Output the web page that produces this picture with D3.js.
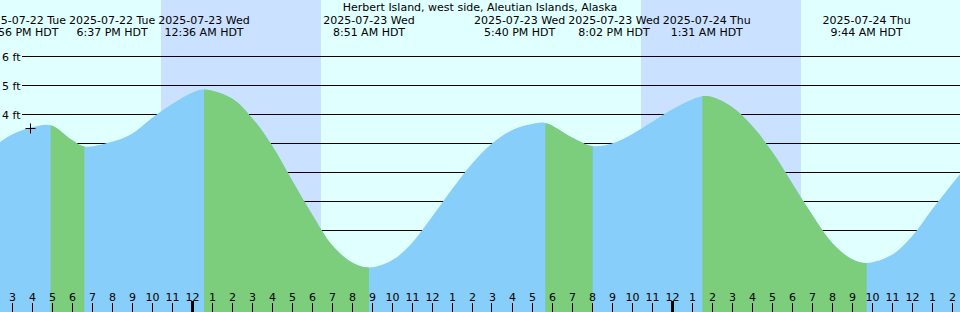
<!DOCTYPE html>
<html>
<head>
<meta charset="utf-8">
<script src="https://cdn.jsdelivr.net/npm/d3@7"></script>
<style>
  body { margin: 0; }
  svg { display: block; font-family: "DejaVu Sans", sans-serif; }
</style>
</head>
<body>
<div id="chart"></div>
<script>
// Station and time window
const title = "Herbert Island, west side, Aleutian Islands, Alaska";
const viewStart = "2025-07-22 14:24";
const viewEnd = "2025-07-24 14:24";

// Water level (ft), one value per hour from levelStart
const levelStart = "2025-07-22 14:00";
const hourlyLevels = [
    2.85, 3.31, 3.56, 3.62, 3.12, 2.91, 3.06, 3.34, 3.88, 4.36,
    4.75, 4.84, 4.55, 3.88, 2.93, 1.73, 0.56, -0.50, -1.10, -1.27,
    -1.03, -0.43, 0.47, 1.42, 2.30, 3.00, 3.46, 3.67, 3.66, 3.21,
    2.92, 3.00, 3.32, 3.74, 4.17, 4.52, 4.60, 4.26, 3.61, 2.72,
    1.64, 0.55, -0.42, -0.99, -1.10, -0.84, -0.20, 0.72, 1.60, 2.45
];

// High / low tide events
const eventTimes = [
    "2025-07-22 16:56", "2025-07-22 18:37", "2025-07-23 00:36", "2025-07-23 08:51",
    "2025-07-23 17:40", "2025-07-23 20:02", "2025-07-24 01:31", "2025-07-24 09:44"
];
const eventLevels = [3.63, 2.90, 4.86, -1.28, 3.71, 2.91, 4.63, -1.12];
const eventDates = [
    "2025-07-22 Tue", "2025-07-22 Tue", "2025-07-23 Wed", "2025-07-23 Wed",
    "2025-07-23 Wed", "2025-07-23 Wed", "2025-07-24 Thu", "2025-07-24 Thu"
];
const eventClock = [
    "4:56 PM HDT", "6:37 PM HDT", "12:36 AM HDT", "8:51 AM HDT",
    "5:40 PM HDT", "8:02 PM HDT", "1:31 AM HDT", "9:44 AM HDT"
];

// Night (sunset -> sunrise)
const nightStart = ["2025-07-22 22:27", "2025-07-23 22:27"];
const nightEnd = ["2025-07-23 06:27", "2025-07-24 06:27"];

// Current time marker
const nowTime = "2025-07-22 15:54";
const nowLevel = 3.55;

const yTicks = [0, 1, 2, 3, 4, 5, 6];

const width = 960, height = 312;
const fontSize = 11;
const colors = {
    day: "#e0ffff",
    night: "#cae1ff",
    rising: "#87cefa",
    falling: "#7ccd7c"
};

const parse = d3.timeParse("%Y-%m-%d %H:%M");

const x = d3.scaleTime()
    .domain([parse(viewStart), parse(viewEnd)])
    .range([0, width]);

const y = d3.scaleLinear()
    .domain([0, 6])
    .range([230.5, 56.5]);

const svg = d3.select("#chart")
    .append("svg")
    .attr("width", width)
    .attr("height", height);

// background + night bands
svg.append("rect")
    .attr("width", width)
    .attr("height", height)
    .attr("fill", colors.day);

svg.selectAll(".night")
    .data(nightStart.map((s, i) => [parse(s), parse(nightEnd[i])]))
    .join("rect")
    .attr("class", "night")
    .attr("x", d => x(d[0]))
    .attr("width", d => x(d[1]) - x(d[0]))
    .attr("y", 0)
    .attr("height", height)
    .attr("fill", colors.night);

// grid lines and y labels
svg.selectAll(".grid")
    .data(yTicks)
    .join("line")
    .attr("class", "grid")
    .attr("x1", 22)
    .attr("x2", width)
    .attr("y1", d => y(d))
    .attr("y2", d => y(d))
    .attr("stroke", "#000")
    .attr("stroke-width", 1);

svg.selectAll(".ylab")
    .data(yTicks)
    .join("text")
    .attr("class", "ylab")
    .attr("x", 2)
    .attr("y", d => y(d) + 4.5)
    .attr("font-size", fontSize)
    .text(d => d + " ft");

// tide points: hourly readings plus the extremes
// (an hourly reading close to an extreme is left out so the curve stays smooth)
const t0 = parse(levelStart);
const eventT = eventTimes.map(parse);
let points = hourlyLevels
    .map((v, i) => ({ t: d3.timeHour.offset(t0, i), v: v }))
    .filter(p => !eventT.some(e => Math.abs(e - p.t) < 25 * 60000));
eventT.forEach((t, i) => points.push({ t: t, v: eventLevels[i] }));
points.sort((a, b) => a.t - b.t);

const area = d3.area()
    .x(d => x(d.t))
    .y0(height)
    .y1(d => y(d.v))
    .curve(d3.curveCatmullRom.alpha(0.5));

svg.append("clipPath")
    .attr("id", "water")
    .append("path")
    .attr("d", area(points));

svg.append("path")
    .attr("d", area(points))
    .attr("fill", colors.rising);

// falling stretches: from each high to the next low
let falling = [];
for (let i = 0; i < eventTimes.length - 1; i++) {
    if (eventLevels[i] > eventLevels[i + 1]) {
        falling.push([eventT[i], eventT[i + 1]]);
    }
}
svg.append("g")
    .attr("clip-path", "url(#water)")
    .selectAll("rect")
    .data(falling)
    .join("rect")
    .attr("x", d => x(d[0]))
    .attr("width", d => x(d[1]) - x(d[0]))
    .attr("y", 0)
    .attr("height", height)
    .attr("fill", colors.falling);

// now marker
const nx = Math.round(x(parse(nowTime))) + 0.5, ny = Math.round(y(nowLevel)) + 0.5;
svg.append("path")
    .attr("d", `M${nx - 5},${ny}H${nx + 5}M${nx},${ny - 5}V${ny + 5}`)
    .attr("stroke", "#000")
    .attr("stroke-width", 1);

// hour ticks along the bottom
const hours = d3.timeHour.range(x.domain()[0], x.domain()[1]);
const fmtHour = d3.timeFormat("%-I");

svg.selectAll(".tick")
    .data(hours)
    .join("line")
    .attr("class", "tick")
    .attr("x1", d => Math.floor(x(d)) + 0.5)
    .attr("x2", d => Math.floor(x(d)) + 0.5)
    .attr("y1", d => d.getHours() === 0 ? 301 : 303)
    .attr("y2", height)
    .attr("stroke", "#000")
    .attr("stroke-width", d => d.getHours() === 0 ? 3 : 1);

svg.selectAll(".hlab")
    .data(hours)
    .join("text")
    .attr("class", "hlab")
    .attr("x", d => x(d) + 0.5)
    .attr("y", 300.5)
    .attr("text-anchor", "middle")
    .attr("font-size", fontSize)
    .text(d => fmtHour(d));

// title
svg.append("text")
    .attr("x", width / 2)
    .attr("y", 10.5)
    .attr("text-anchor", "middle")
    .attr("font-size", fontSize)
    .text(title);

// event labels, pushed apart where they would overlap
const labels = svg.selectAll(".ev")
    .data(eventT.map((t, i) => ({ pos: x(t), date: eventDates[i], clock: eventClock[i] })))
    .join("g")
    .attr("class", "ev");

labels.append("text")
    .attr("y", 23.5)
    .attr("text-anchor", "middle")
    .attr("font-size", fontSize)
    .text(d => d.date);

labels.append("text")
    .attr("y", 36)
    .attr("text-anchor", "middle")
    .attr("font-size", fontSize)
    .text(d => d.clock);

labels.each(function (d) {
    const w = [];
    d3.select(this).selectAll("text").each(function () { w.push(this.getComputedTextLength()); });
    d.w = d3.max(w);
});

const ev = labels.data();
const gap = 3;
for (let k = 0; k < 100; k++) {
    for (let i = 0; i < ev.length - 1; i++) {
        const overlap = (ev[i].pos + ev[i].w / 2 + gap) - (ev[i + 1].pos - ev[i + 1].w / 2);
        if (overlap > 0) {
            ev[i].pos -= overlap / 2;
            ev[i + 1].pos += overlap / 2;
        }
    }
}
labels.attr("transform", d => `translate(${d.pos},0)`);
</script>
</body>
</html>
